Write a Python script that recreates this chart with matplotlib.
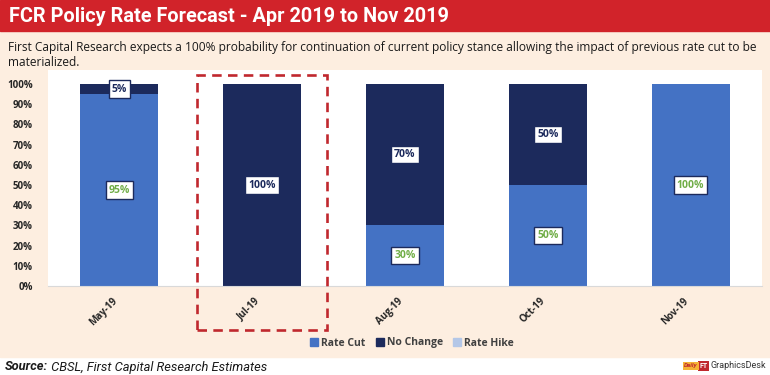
import matplotlib
matplotlib.use("Agg")
import matplotlib.pyplot as plt
import matplotlib.patches as mpatches
import matplotlib.transforms as mtransforms
from matplotlib.font_manager import fontManager

months = ["May-19", "Jul-19", "Aug-19", "Oct-19", "Nov-19"]
rate_cut = [0.95, 0.0, 0.30, 0.50, 1.00]
no_change = [0.05, 1.00, 0.70, 0.50, 0.0]
rate_hike = [0.0, 0.0, 0.0, 0.0, 0.0]
yticks = [0.0, 0.1, 0.2, 0.3, 0.4, 0.5, 0.6, 0.7, 0.8, 0.9, 1.0]

title = "FCR Policy Rate Forecast - Apr 2019 to Nov 2019"
subtitle = ("First Capital Research expects a 100% probability for continuation of current "
            "policy stance allowing the impact of previous rate cut to be\nmaterialized.")
highlight = "Jul-19"

C_CUT = "#4472c4"
C_NOCH = "#1c2a5c"
C_HIKE = "#b4c7e7"
C_GREEN = "#70ad47"
RED = "#d1232a"
PEACH = "#fdeee0"

names = {f.name for f in fontManager.ttflist}
narrow = "Roboto" if "Roboto" in names else "DejaVu Sans"
body = "Open Sans" if "Open Sans" in names else "DejaVu Sans"

W, H = 770, 375
fig = plt.figure(figsize=(W / 100, H / 100), dpi=100)
fig.patch.set_facecolor("white")
renderer = fig.canvas.get_renderer()


def px(x0, y0, w, h):
    # pixel box (top-left origin) -> figure fraction
    return [x0 / W, 1 - (y0 + h) / H, w / W, h / H]


def fit(t, width):
    # shrink/grow font so the text's widest line spans `width` pixels
    w = t.get_window_extent(renderer).width
    t.set_fontsize(t.get_fontsize() * width / w)
    return t


# background bands
fig.patches.append(mpatches.Rectangle((0, 1 - 357 / H), 1, (357 - 31) / H,
                                      transform=fig.transFigure, color=PEACH, zorder=-2))
fig.patches.append(mpatches.Rectangle((0, 1 - 31 / H), 1, 31 / H,
                                      transform=fig.transFigure, color=RED, zorder=-2))

t = fig.text(9 / W, 1 - 16 / H, title, color="white", fontsize=13, fontweight="bold",
             family=narrow, va="center", ha="left")
fit(t, 440)
t = fig.text(8 / W, 1 - 41 / H, subtitle, color="#1a1a1a", fontsize=9, family=body,
             va="top", ha="left", linespacing=1.2)
fit(t, 752)

ax = fig.add_axes(px(48, 70, 714, 216))
ax.set_facecolor("white")
x = list(range(len(months)))
bw = 0.545
ax.bar(x, rate_cut, bw, color=C_CUT, label="Rate Cut", zorder=2)
ax.bar(x, no_change, bw, bottom=rate_cut, color=C_NOCH, label="No Change", zorder=2)
tops = [a + b for a, b in zip(rate_cut, no_change)]
ax.bar(x, rate_hike, bw, bottom=tops, color=C_HIKE, label="Rate Hike", zorder=2)

ax.set_xlim(-0.5, len(months) - 0.5)
ax.set_ylim(0, 1.0 * 216 / 202)
ax.set_yticks(yticks)
ax.set_yticklabels([f"{int(round(v * 100))}%" for v in yticks], fontsize=7,
                   fontweight="bold", color="#262626", family=body)
ax.set_xticks(x)
ax.set_xticklabels(months, rotation=45, ha="right", fontsize=7, fontweight="bold",
                   color="#262626", family=body)
ax.tick_params(axis="y", length=0, pad=11)
ax.tick_params(axis="x", length=0, pad=7)
for s in ["top", "right", "left"]:
    ax.spines[s].set_visible(False)
ax.spines["bottom"].set_color("#d9d9d9")

for i in x:
    if rate_cut[i] > 0:
        ax.text(i, rate_cut[i] / 2, f"{rate_cut[i] * 100:.0f}%", ha="center", va="center",
                fontsize=7.5, fontweight="bold", color=C_GREEN, family=body, zorder=4,
                bbox=dict(boxstyle="square,pad=0.3", fc="white", ec=C_NOCH, lw=1))
    if no_change[i] > 0:
        ax.text(i, rate_cut[i] + no_change[i] / 2, f"{no_change[i] * 100:.0f}%",
                ha="center", va="center", fontsize=7.5, fontweight="bold", color=C_NOCH,
                family=body, zorder=4,
                bbox=dict(boxstyle="square,pad=0.3", fc="white", ec=C_NOCH, lw=1))

# dashed highlight around the current month
hi = months.index(highlight)
trans = mtransforms.blended_transform_factory(ax.transData, ax.transAxes)
box = mpatches.Rectangle((hi - 0.455, -0.204), 0.91, 0.977 + 0.204, transform=trans,
                         fill=False, ec="#c0282e", lw=1.9, ls=(0, (3.6, 2.4)),
                         clip_on=False, zorder=5)
ax.add_patch(box)

handles = [mpatches.Patch(color=C_CUT, label="Rate Cut"),
           mpatches.Patch(color=C_NOCH, label="No Change"),
           mpatches.Patch(color=C_HIKE, label="Rate Hike")]
leg = fig.legend(handles=handles, loc="center", bbox_to_anchor=(412 / W, 1 - 343 / H),
                 ncol=3, frameon=False, handlelength=0.75, handleheight=0.75,
                 handletextpad=0.3, columnspacing=1.0,
                 prop=dict(family=body, weight="bold", size=7.5))
for t in leg.get_texts():
    t.set_color("#404040")

# footer
src = fig.text(5 / W, 1 - 367 / H, "Source:", fontsize=10, fontweight="bold",
               style="italic", family=narrow, color="#1a1a1a", va="center", ha="left")
rest = fig.text(0, 1 - 367 / H, " CBSL, First Capital Research Estimates",
                fontsize=10, style="italic", family=narrow, color="#1a1a1a",
                va="center", ha="left")
s_w = src.get_window_extent(renderer).width
r_w = rest.get_window_extent(renderer).width
k = 262 / (s_w + r_w)
src.set_fontsize(10 * k)
rest.set_fontsize(10 * k)
rest.set_x((5 + s_w * k) / W)

gd = fig.text(766 / W, 1 - 366 / H, "GraphicsDesk", fontsize=6.5, color="#333333",
              family=narrow, va="center", ha="right")
gx = gd.get_window_extent(renderer).x0
ft = fig.text((gx - 3) / W, 1 - 366 / H, "FT", fontsize=5, fontweight="bold",
              color="white", family=narrow, va="center", ha="right",
              bbox=dict(boxstyle="square,pad=0.2", fc="#c0282e", ec="none"))
fx = ft.get_window_extent(renderer).x0
fig.text((fx - 2) / W, 1 - 366 / H, "Daily", fontsize=4.5, style="italic",
         fontweight="bold", color="#c0282e", family=narrow, va="center", ha="right",
         bbox=dict(boxstyle="square,pad=0.2", fc="#f5b335", ec="none"))

fig.savefig("out.png", dpi=100, facecolor=fig.get_facecolor())
